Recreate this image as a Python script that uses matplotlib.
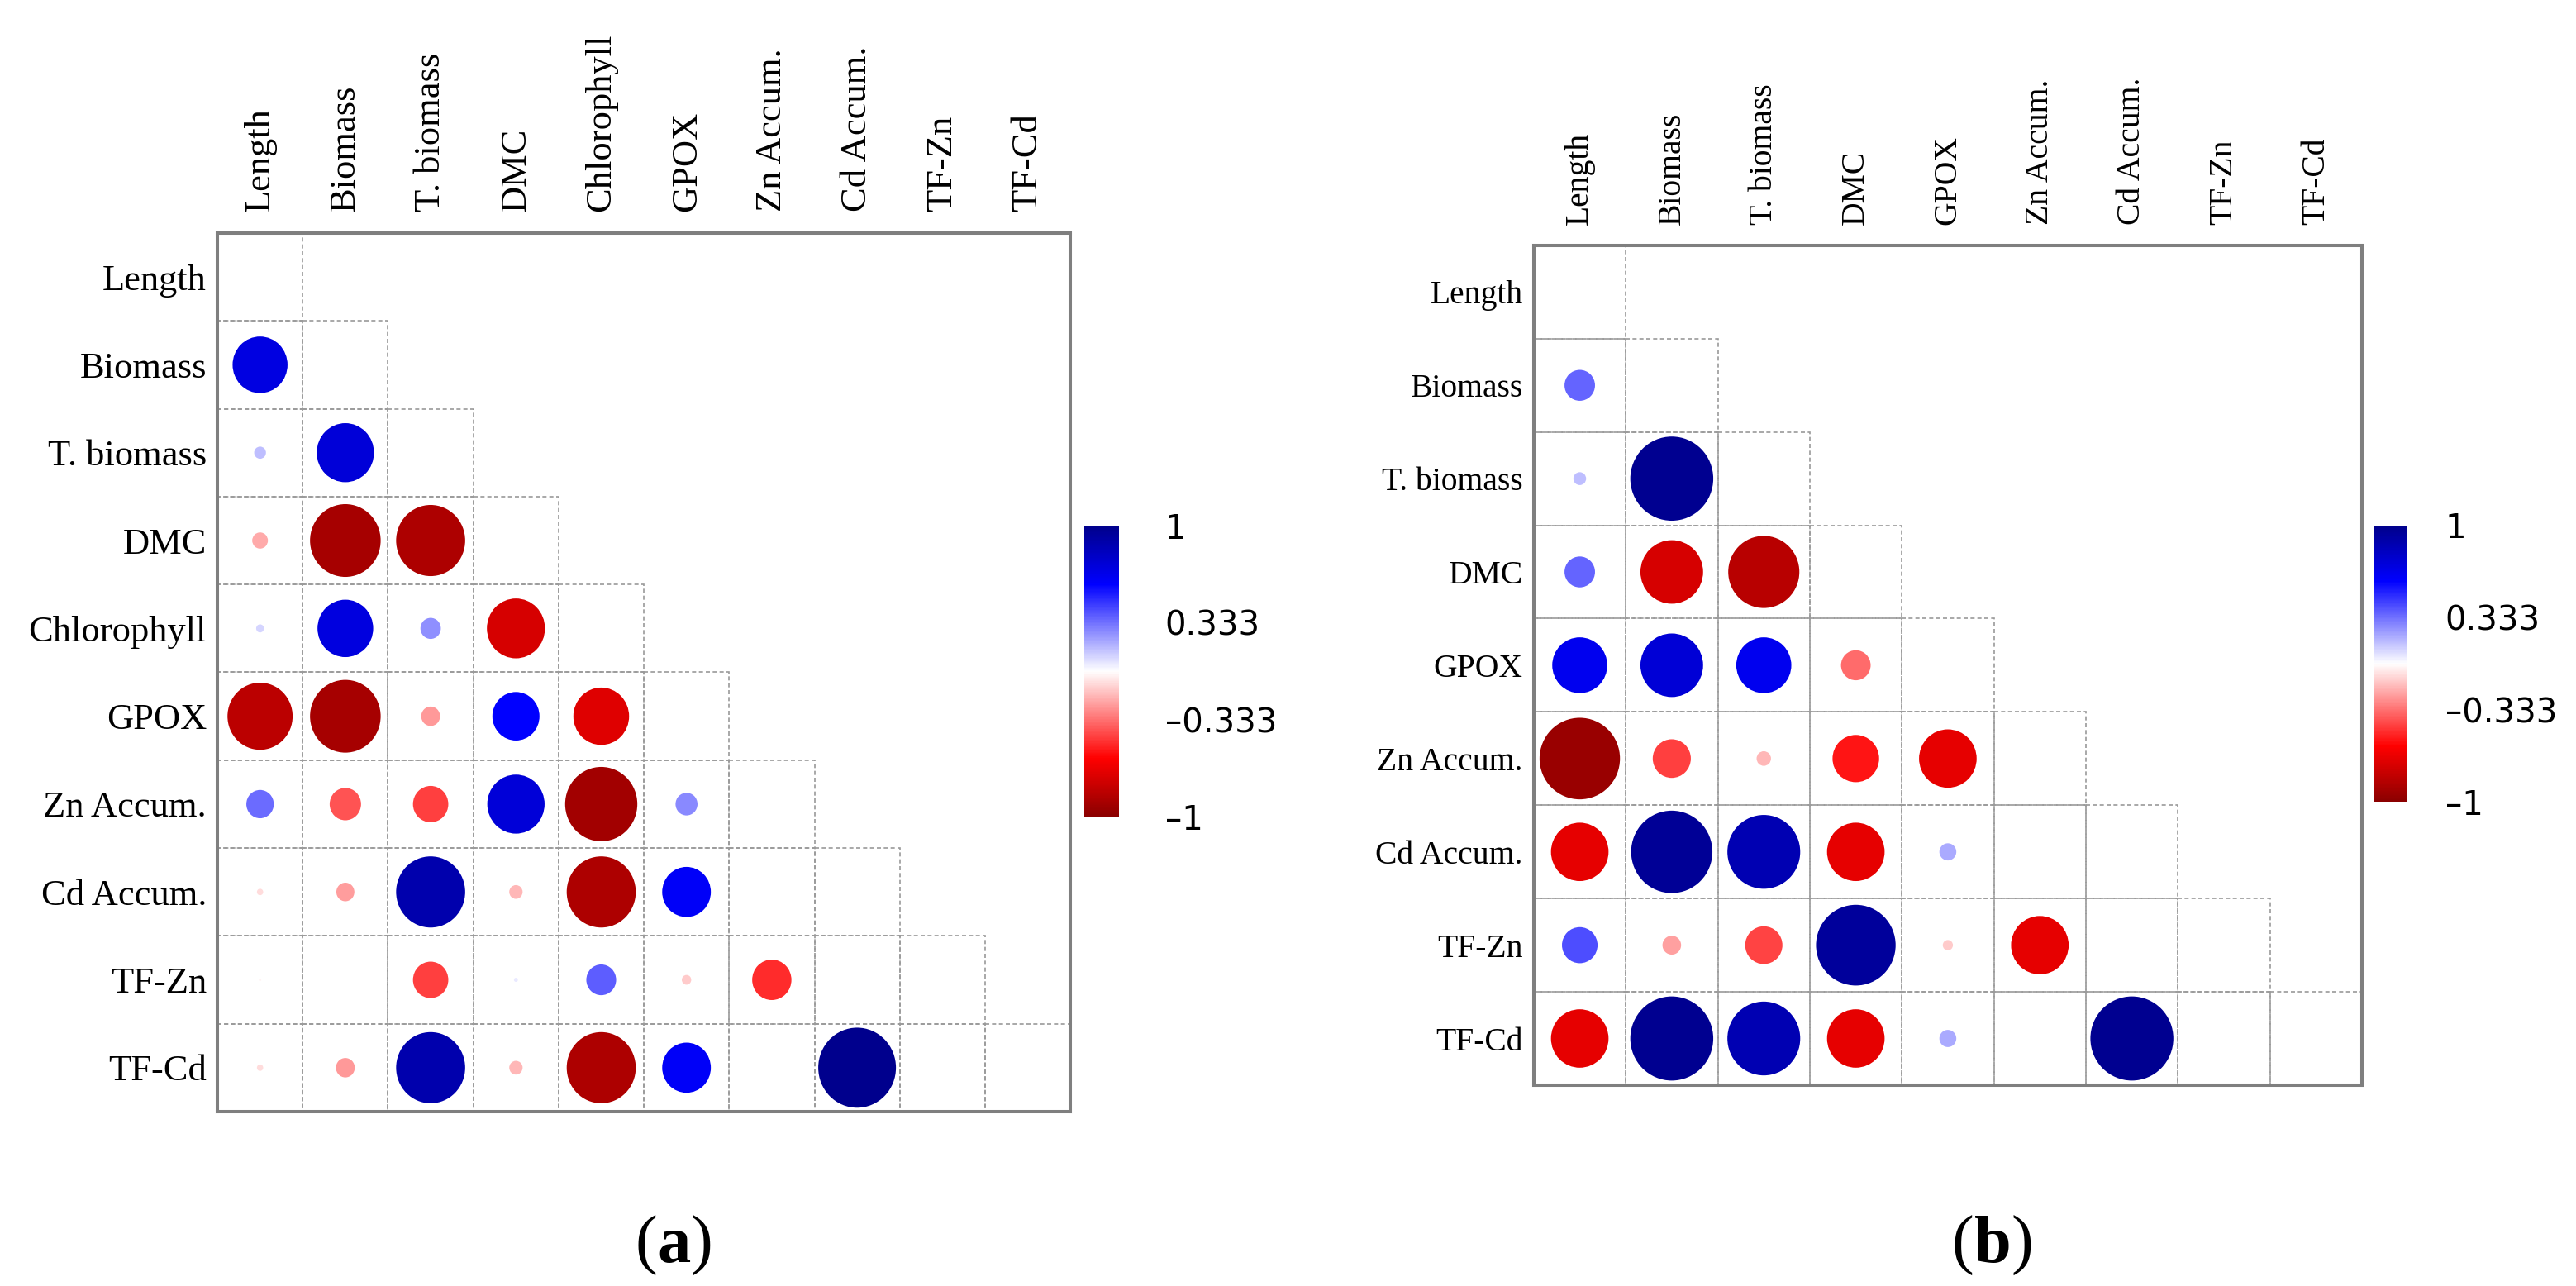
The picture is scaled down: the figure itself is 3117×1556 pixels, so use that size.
import numpy as np
import matplotlib
matplotlib.use("Agg")
import matplotlib.pyplot as plt
from matplotlib.colors import LinearSegmentedColormap, Normalize
from matplotlib.patches import Ellipse, Rectangle
from matplotlib.cm import ScalarMappable

# ---------------- data ----------------
labels_a = ["Length", "Biomass", "T. biomass", "DMC", "Chlorophyll", "GPOX",
            "Zn Accum.", "Cd Accum.", "TF-Zn", "TF-Cd"]
# lower triangle, one list per row (row i holds correlations with columns 0..i-1)
a_biomass = [0.70]
a_tbiomass = [0.15, 0.73]
a_dmc = [-0.20, -0.90, -0.88]
a_chloro = [0.10, 0.71, 0.26, -0.74]
a_gpox = [-0.83, -0.90, -0.24, 0.60, -0.71]
a_zn = [0.35, -0.40, -0.45, 0.73, -0.92, 0.28]
a_cd = [-0.08, -0.23, 0.88, -0.17, -0.88, 0.62, 0.0]
a_tfzn = [-0.03, 0.0, -0.45, 0.05, 0.38, -0.12, -0.50, 0.0]
a_tfcd = [-0.08, -0.24, 0.88, -0.17, -0.88, 0.62, 0.0, 0.99, 0.0]
rows_a = [a_biomass, a_tbiomass, a_dmc, a_chloro, a_gpox, a_zn, a_cd, a_tfzn, a_tfcd]

labels_b = ["Length", "Biomass", "T. biomass", "DMC", "GPOX",
            "Zn Accum.", "Cd Accum.", "TF-Zn", "TF-Cd"]
b_biomass = [0.36]
b_tbiomass = [0.15, 0.98]
b_dmc = [0.36, -0.74, -0.84]
b_gpox = [0.65, 0.74, 0.65, -0.35]
b_zn = [-0.95, -0.45, -0.17, -0.55, -0.68]
b_cd = [-0.68, 0.96, 0.86, -0.68, 0.20, 0.0]
b_tfzn = [0.42, -0.22, -0.44, 0.94, -0.12, -0.68, 0.0]
b_tfcd = [-0.68, 0.98, 0.86, -0.68, 0.20, 0.0, 0.98, 0.0]
rows_b = [b_biomass, b_tbiomass, b_dmc, b_gpox, b_zn, b_cd, b_tfzn, b_tfcd]

cbar_ticks = [1, 0.333, -0.333, -1]
cbar_ticklabels = ["1", "0.333", "\u20130.333", "\u20131"]

# ---------------- style ----------------
cmap = LinearSegmentedColormap.from_list(
    "corr", [(0.0, "#8B0000"), (0.2, "#FF0000"), (0.5, "#FFFFFF"),
             (0.8, "#0000FF"), (1.0, "#00008B")])
norm = Normalize(vmin=-1, vmax=1)
SERIF = ["Liberation Serif", "DejaVu Serif"]

fig = plt.figure(figsize=(31.17, 15.56), dpi=100)
fig.patch.set_facecolor("white")

ax_a = fig.add_axes([0.0844, 0.1356, 0.3311, 0.6832])
ax_b = fig.add_axes([0.5954, 0.1562, 0.3215, 0.6530])
cax_a = fig.add_axes([0.4209, 0.3650, 0.0135, 0.2262])
cax_b = fig.add_axes([0.9217, 0.3766, 0.0128, 0.2147])


def draw_panel(ax, labels, rows, fs, col_pad, row_pad):
    n = len(labels)
    ax.set_xlim(0, n)
    ax.set_ylim(n, 0)
    for i in range(n):
        for j in range(i + 1):
            ax.add_patch(Rectangle((j, i), 1, 1, fill=False, linestyle=(0, (3, 2)),
                                   linewidth=1.2, edgecolor="#9a9a9a", zorder=1))
    for i, row in enumerate(rows, start=1):
        for j, r in enumerate(row):
            if r == 0:
                continue
            d = 0.92 * abs(r)
            ax.add_patch(Ellipse((j + 0.5, i + 0.5), d, d, facecolor=cmap(norm(r)),
                                 edgecolor="none", zorder=2))
    ax.xaxis.tick_top()
    ax.set_xticks(np.arange(n) + 0.5)
    ax.set_xticklabels(labels, rotation=90, fontsize=fs, family=SERIF)
    ax.set_yticks(np.arange(n) + 0.5)
    ax.set_yticklabels(labels, fontsize=fs, family=SERIF)
    ax.tick_params(axis="x", length=0, pad=col_pad)
    ax.tick_params(axis="y", length=0, pad=row_pad)
    for s in ax.spines.values():
        s.set_color("#7f7f7f")
        s.set_linewidth(2.9)
        s.set_zorder(5)


def draw_cbar(cax, pad):
    cb = fig.colorbar(ScalarMappable(norm=norm, cmap=cmap), cax=cax, ticks=cbar_ticks)
    cb.ax.set_yticklabels(cbar_ticklabels, fontsize=29, family="DejaVu Sans")
    cb.outline.set_visible(False)
    cb.ax.tick_params(length=0, pad=pad)


draw_panel(ax_a, labels_a, rows_a, 32, 19, 9.5)
draw_panel(ax_b, labels_b, rows_b, 28.5, 18, 9.5)
draw_cbar(cax_a, 40)
draw_cbar(cax_b, 33)

renderer = fig.canvas.get_renderer()


def caption(xc, yb, letter):
    parts = [("(", "normal"), (letter, "bold"), (")", "normal")]
    texts = [fig.text(0, yb, s, fontsize=58, fontweight=w, family=SERIF,
                      ha="left", va="baseline") for s, w in parts]
    widths = [t.get_window_extent(renderer).width / fig.bbox.width for t in texts]
    x = xc - sum(widths) / 2
    for t, w in zip(texts, widths):
        t.set_x(x)
        x += w


caption(0.2615, 0.0186, "a")
caption(0.7735, 0.0186, "b")

fig.savefig("out.png", dpi=100, facecolor="white")
